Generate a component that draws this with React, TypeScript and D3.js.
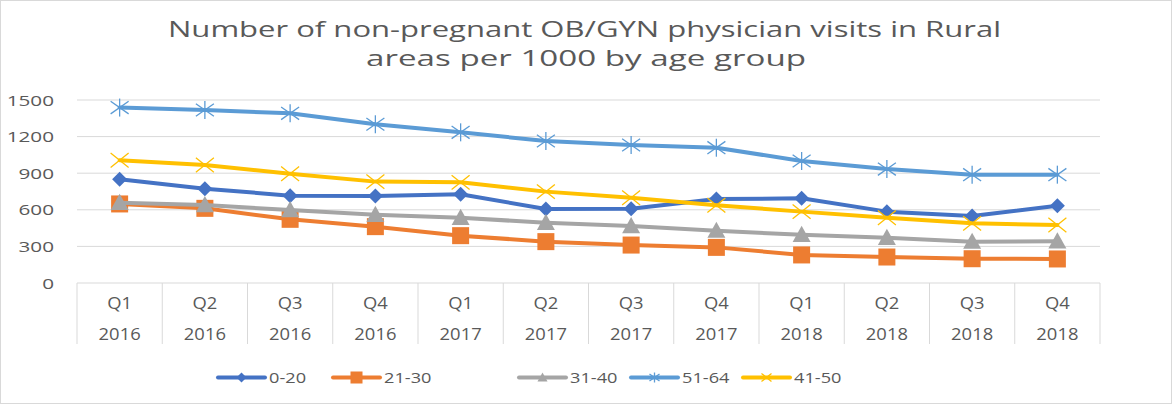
import React from 'react';
import * as d3 from 'd3';

const width = 1172;
const height = 404;
const margin = { top: 100, right: 72, bottom: 121, left: 77 };

const quarters = ['Q1', 'Q2', 'Q3', 'Q4', 'Q1', 'Q2', 'Q3', 'Q4', 'Q1', 'Q2', 'Q3', 'Q4'];
const years = ['2016', '2016', '2016', '2016', '2017', '2017', '2017', '2017', '2018', '2018', '2018', '2018'];
const yTicks = [0, 300, 600, 900, 1200, 1500];

const age0to20 = [850, 773, 716, 713, 727, 607, 609, 688, 694, 585, 549, 634];
const age21to30 = [648, 612, 522, 462, 388, 339, 311, 292, 230, 213, 199, 197];
const age31to40 = [658, 639, 598, 560, 535, 494, 467, 429, 395, 371, 339, 342];
const age51to64 = [1438, 1418, 1391, 1301, 1235, 1164, 1131, 1109, 1000, 934, 888, 888];
const age41to50 = [1006, 967, 896, 831, 825, 749, 699, 637, 585, 535, 489, 475];

const series = [
  { name: '0-20', values: age0to20, color: '#4472C4', marker: 'diamond', legendX: 218 },
  { name: '21-30', values: age21to30, color: '#ED7D31', marker: 'square', legendX: 333 },
  { name: '31-40', values: age31to40, color: '#A5A5A5', marker: 'triangle', legendX: 519 },
  { name: '51-64', values: age51to64, color: '#5B9BD5', marker: 'star', legendX: 631 },
  { name: '41-50', values: age41to50, color: '#FFC000', marker: 'x', legendX: 743 },
];

const font = '"Open Sans", "DejaVu Sans", sans-serif';
const textColor = '#595959';

// text squeezed/stretched horizontally, the source chart has wide glyphs
function SText({ x, y, sx, size, anchor, children }: any) {
  return (
    <text transform={`translate(${x},${y}) scale(${sx},1)`} textAnchor={anchor || 'start'} fontSize={size} fill={textColor}>
      {children}
    </text>
  );
}

function Marker({ type, x, y, color, size }: { type: string; x: number; y: number; color: string; size: number }) {
  const r = size / 2;
  if (type === 'diamond') {
    return <path d={`M${x},${y - r}L${x + r},${y}L${x},${y + r}L${x - r},${y}Z`} fill={color} />;
  }
  if (type === 'square') {
    return <rect x={x - r} y={y - r} width={size} height={size} fill={color} />;
  }
  if (type === 'triangle') {
    return <path d={`M${x},${y - r}L${x + r},${y + r * 0.8}L${x - r},${y + r * 0.8}Z`} fill={color} />;
  }
  if (type === 'star') {
    return (
      <g stroke={color} strokeWidth={1.3}>
        <line x1={x - r} y1={y - r * 0.7} x2={x + r} y2={y + r * 0.7} />
        <line x1={x - r} y1={y + r * 0.7} x2={x + r} y2={y - r * 0.7} />
        <line x1={x} y1={y - r} x2={x} y2={y + r} />
      </g>
    );
  }
  return (
    <g stroke={color} strokeWidth={1.3}>
      <line x1={x - r} y1={y - r * 0.8} x2={x + r} y2={y + r * 0.8} />
      <line x1={x - r} y1={y + r * 0.8} x2={x + r} y2={y - r * 0.8} />
    </g>
  );
}

export default function App() {
  const idx = d3.range(quarters.length);
  const xScale = d3.scaleBand<number>().domain(idx).range([margin.left, width - margin.right]);
  const yScale = d3.scaleLinear().domain([0, 1500]).range([height - margin.bottom, margin.top]);
  const cx = (i: number) => (xScale(i) as number) + xScale.bandwidth() / 2;
  const line = d3.line<number>().x((_, i) => cx(i)).y(d => yScale(d));
  const baseY = yScale(0);
  const markerSizes: Record<string, number> = { diamond: 15, square: 17, triangle: 18, star: 18, x: 18 };

  return (
    <svg width={width} height={height} style={{ position: 'absolute', left: 0, top: 0 }} fontFamily={font}>
      <rect x={0.5} y={0.5} width={width - 1} height={height - 1} fill="#fff" stroke="#d9d9d9" />
      <text x={168} y={37} fontSize={22} fill={textColor} textLength={833} lengthAdjust="spacingAndGlyphs">
        Number of non-pregnant OB/GYN physician visits in Rural
      </text>
      <text x={366} y={66} fontSize={22} fill={textColor} textLength={440} lengthAdjust="spacingAndGlyphs">
        areas per 1000 by age group
      </text>
      {yTicks.map(t => (
        <g key={t}>
          {t > 0 && (
            <line x1={margin.left} x2={width - margin.right} y1={yScale(t)} y2={yScale(t)} stroke="#d9d9d9" strokeWidth={1} />
          )}
          <SText x={54} y={yScale(t) + 5.5} sx={1.38} size={15} anchor="end">{t}</SText>
        </g>
      ))}
      <line x1={margin.left} x2={width - margin.right} y1={baseY} y2={baseY} stroke="#d9d9d9" strokeWidth={1} />
      {idx.map(i => (
        <line key={'t' + i} x1={xScale(i)} x2={xScale(i)} y1={baseY} y2={baseY + 61} stroke="#d9d9d9" />
      ))}
      <line x1={width - margin.right} x2={width - margin.right} y1={baseY} y2={baseY + 61} stroke="#d9d9d9" />
      {idx.map(i => (
        <g key={'c' + i}>
          <SText x={cx(i)} y={309} sx={1.15} size={16} anchor="middle">{quarters[i]}</SText>
          <SText x={cx(i)} y={340} sx={1.15} size={16} anchor="middle">{years[i]}</SText>
        </g>
      ))}
      {series.map(s => (
        <g key={s.name}>
          <path d={line(s.values) as string} fill="none" stroke={s.color} strokeWidth={4} strokeLinejoin="round" strokeLinecap="round" />
          {s.values.map((v, i) => (
            <Marker key={i} type={s.marker} x={cx(i)} y={yScale(v)} color={s.color} size={markerSizes[s.marker]} />
          ))}
        </g>
      ))}
      {series.map(s => (
        <g key={'l' + s.name}>
          <line x1={s.legendX} x2={s.legendX + 47} y1={377.5} y2={377.5} stroke={s.color} strokeWidth={4} strokeLinecap="round" />
          <Marker type={s.marker} x={s.legendX + 23.5} y={377.5} color={s.color} size={s.marker === 'square' ? 12 : 10} />
          <SText x={s.legendX + 51} y={383} sx={1.3} size={14}>{s.name}</SText>
        </g>
      ))}
    </svg>
  );
}
